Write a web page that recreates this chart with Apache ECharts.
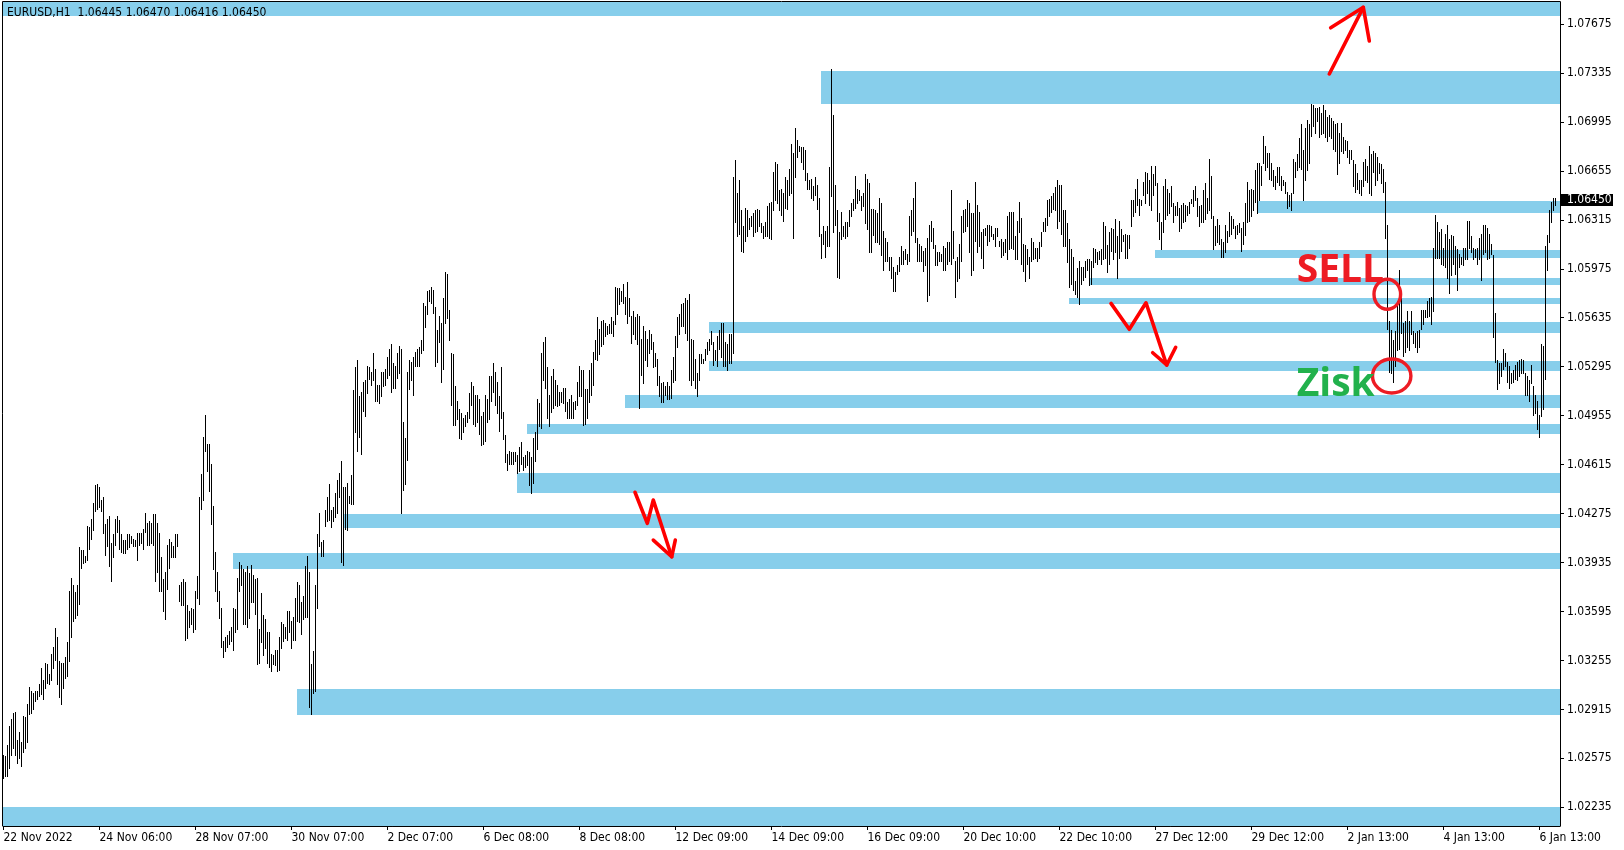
<!DOCTYPE html>
<html><head><meta charset="utf-8">
<script src="https://cdn.jsdelivr.net/npm/echarts@6/dist/echarts.min.js"></script>
<style>html,body{margin:0;padding:0;background:#fff}#c{width:1624px;height:850px}</style>
</head><body><div id="c"></div>
<script>
// ---------- chart values ----------
const chartTitle = 'EURUSD,H1  1.06445 1.06470 1.06416 1.06450';
const lastClose = 1.06450;
const timeLabels = ['22 Nov 2022','24 Nov 06:00','28 Nov 07:00','30 Nov 07:00','2 Dec 07:00','6 Dec 08:00','8 Dec 08:00','12 Dec 09:00','14 Dec 09:00','16 Dec 09:00','20 Dec 10:00','22 Dec 10:00','27 Dec 12:00','29 Dec 12:00','2 Jan 13:00','4 Jan 13:00','6 Jan 13:00'];
const timeLabelBars = [0,48,96,144,192,240,288,336,384,432,480,528,576,624,672,720,768];
const priceTicks = [1.02235,1.02575,1.02915,1.03255,1.03595,1.03935,1.04275,1.04615,1.04955,1.05295,1.05635,1.05975,1.06315,1.06655,1.06995,1.07335,1.07675];

// H1 bar highs (one per hour, oldest first)
const highs = [
1.0260,1.0259,1.0267,1.0280,1.0285,1.0289,1.0290,1.0270,1.0276,1.0269,
1.0287,1.0286,1.0295,1.0307,1.0304,1.0303,1.0304,1.0304,1.0309,1.0320,
1.0312,1.0324,1.0323,1.0316,1.0330,1.0335,1.0348,1.0342,1.0325,1.0324,
1.0324,1.0328,1.0338,1.0374,1.0383,1.0378,1.0373,1.0378,1.0404,1.0402,
1.0402,1.0398,1.0419,1.0418,1.0424,1.0435,1.0447,1.0448,1.0446,1.0437,
1.0439,1.0420,1.0424,1.0426,1.0407,1.0413,1.0424,1.0426,1.0423,1.0413,
1.0409,1.0409,1.0413,1.0413,1.0412,1.0410,1.0409,1.0414,1.0414,1.0414,
1.0417,1.0428,1.0421,1.0422,1.0421,1.0427,1.0427,1.0421,1.0414,1.0397,
1.0382,1.0387,1.0406,1.0410,1.0408,1.0405,1.0413,1.0413,1.0378,1.0380,
1.0382,1.0380,1.0364,1.0360,1.0362,1.0361,1.0374,1.0384,1.0439,1.0455,
1.0481,1.0496,1.0476,1.0476,1.0462,1.0433,1.0401,1.0387,1.0374,1.0362,
1.0339,1.0342,1.0343,1.0346,1.0349,1.0362,1.0361,1.0383,1.0394,1.0392,
1.0389,1.0387,1.0391,1.0386,1.0392,1.0385,1.0382,1.0383,1.0347,1.0372,
1.0357,1.0354,1.0345,1.0345,1.0330,1.0329,1.0333,1.0333,1.0342,1.0352,
1.0351,1.0349,1.0360,1.0360,1.0353,1.0356,1.0369,1.0380,1.0378,1.0366,
1.0370,1.0391,1.0398,1.0387,1.0323,1.0332,1.0378,1.0413,1.0428,
1.0408,1.0409,1.0430,1.0439,1.0448,1.0430,1.0432,1.0442,1.0451,1.0456,
1.0464,1.0446,1.0446,1.0449,1.0440,1.0454,1.0513,1.0529,1.0534,1.0509,
1.0512,1.0519,1.0520,1.0530,1.0529,1.0526,1.0539,1.0528,1.0517,1.0517,
1.0526,1.0526,1.0528,1.0536,1.0542,1.0545,1.0532,1.0530,1.0539,1.0544,
1.0542,1.0491,1.0480,1.0526,1.0534,1.0533,1.0536,1.0540,1.0542,1.0543,
1.0548,1.0574,1.0572,1.0582,1.0583,1.0585,1.0583,1.0571,1.0555,1.0565,
1.0560,1.0577,1.0595,1.0594,1.0569,1.0539,1.0538,1.0516,1.0506,1.0500,
1.0497,1.0494,1.0496,1.0498,1.0511,1.0519,1.0516,1.0510,1.0510,1.0507,
1.0495,1.0498,1.0510,1.0507,1.0523,1.0523,1.0532,1.0526,1.0519,1.0509,
1.0529,1.0498,1.0482,1.0469,1.0471,1.0470,1.0470,1.0470,1.0468,1.0474,
1.0477,1.0467,1.0468,1.0471,1.0470,1.0467,1.0480,1.0484,1.0507,1.0504,
1.0539,1.0547,1.0550,1.0529,1.0510,1.0523,1.0528,1.0520,1.0517,1.0512,
1.0512,1.0515,1.0515,1.0505,1.0507,1.0510,1.0505,1.0506,1.0519,1.0530,
1.0527,1.0527,1.0514,1.0514,1.0527,1.0532,1.0540,1.0548,1.0564,1.0556,
1.0561,1.0562,1.0560,1.0558,1.0559,1.0564,1.0561,1.0585,1.0584,1.0584,
1.0582,1.0587,1.0578,1.0588,
1.0577,1.0565,1.0568,1.0564,1.0566,1.0565,1.0549,1.0558,1.0554,1.0549,
1.0555,1.0552,1.0547,1.0539,1.0535,1.0523,1.0518,1.0519,1.0516,1.0519,
1.0516,1.0527,1.0536,1.0551,1.0564,1.0566,1.0573,1.0574,1.0577,1.0576,
1.0580,1.0549,1.0548,1.0535,1.0525,1.0538,1.0538,1.0535,1.0542,1.0547,
1.0549,1.0554,1.0547,1.0541,1.0551,1.0555,1.0560,1.0560,1.0547,1.0545,
1.0552,1.0552,1.0661,1.0673,1.0650,1.0659,1.0638,1.0627,1.0640,1.0638,
1.0633,1.0634,1.0636,1.0638,1.0639,1.0638,1.0629,1.0627,1.0630,1.0641,
1.0643,1.0644,1.0665,1.0672,1.0670,1.0652,1.0653,1.0650,1.0661,1.0659,
1.0667,1.0684,1.0678,1.0695,1.0687,1.0683,1.0682,1.0682,1.0680,1.0664,
1.0659,1.0660,1.0655,1.0661,1.0656,1.0647,1.0622,1.0627,1.0624,1.0627,
1.0668,1.0736,1.0704,1.0656,1.0638,1.0623,1.0637,1.0627,1.0630,1.0630,
1.0638,1.0643,1.0646,1.0662,1.0653,1.0652,1.0648,1.0650,1.0663,1.0660,
1.0657,1.0639,1.0639,1.0638,1.0636,1.0647,1.0643,1.0624,1.0619,1.0616,
1.0606,1.0606,1.0599,1.0595,1.0600,1.0606,1.0613,1.0610,1.0611,1.0608,
1.0634,1.0638,1.0647,1.0658,1.0619,1.0615,1.0613,1.0610,1.0612,1.0619,1.0628,
1.0631,1.0626,1.0614,1.0609,1.0609,1.0608,1.0613,1.0612,1.0616,1.0616,
1.0652,1.0624,1.0603,1.0606,1.0615,1.0634,1.0638,1.0639,1.0645,1.0643,
1.0636,1.0636,1.0658,1.0642,1.0637,1.0623,1.0625,1.0626,1.0628,1.0628,
1.0627,1.0622,1.0626,1.0626,1.0617,1.0618,1.0616,1.0618,1.0634,1.0637,
1.0637,1.0637,1.0620,1.0631,1.0644,1.0633,1.0615,1.0614,1.0611,1.0606,
1.0619,1.0616,1.0612,1.0612,1.0616,1.0623,1.0630,1.0633,1.0645,1.0646,
1.0648,1.0650,1.0654,1.0659,1.0656,1.0656,1.0638,1.0638,1.0629,1.0618,
1.0611,1.0606,1.0589,1.0598,1.0603,1.0599,1.0599,1.0603,1.0604,1.0604,
1.0603,1.0612,1.0611,1.0609,1.0610,1.0611,1.0630,1.0627,1.0614,1.0623,
1.0626,1.0625,1.0632,1.0620,1.0631,1.0625,1.0621,1.0622,1.0621,1.0621,
1.0645,1.0645,1.0653,1.0660,1.0646,1.0645,1.0658,1.0665,1.0664,1.0659,
1.0669,1.0663,1.0669,1.0657,1.0636,1.0630,1.0655,1.0660,1.0653,1.0650,
1.0655,1.0643,1.0641,1.0644,1.0640,1.0642,1.0643,1.0642,1.0641,1.0644,
1.0646,1.0652,1.0655,1.0647,1.0641,1.0642,1.0652,1.0657,1.0647,1.0674,
1.0662,1.0634,1.0627,1.0632,1.0628,1.0618,1.0616,1.0628,1.0624,1.0637,
1.0634,1.0632,1.0627,1.0628,1.0629,
1.0626,1.0630,1.0643,1.0658,1.0652,1.0653,1.0652,1.0666,1.0671,1.0671,
1.0669,1.0690,1.0683,1.0678,1.0678,1.0671,1.0666,1.0662,1.0668,1.0668,
1.0662,1.0659,1.0658,1.0651,1.0649,1.0650,1.0674,1.0672,1.0677,1.0688,
1.0698,1.0680,1.0695,1.0701,1.0698,1.0712,1.0711,1.0709,1.0709,1.0710,
1.0706,1.0711,1.0708,1.0703,1.0704,1.0702,1.0700,1.0698,1.0699,1.0692,
1.0699,1.0689,1.0687,1.0686,1.0680,1.0680,1.0673,1.0670,1.0664,1.0659,
1.0659,1.0672,1.0674,1.0669,1.0683,1.0677,1.0679,1.0678,1.0675,1.0671,
1.0670,1.0667,1.0658,1.0628,1.0561,1.0555,1.0548,1.0554,1.0575,1.0597,
1.0581,1.0560,1.0561,1.0568,1.0561,1.0568,1.0554,1.0553,1.0554,1.0555,
1.0569,1.0569,1.0569,1.0575,1.0577,1.0578,1.0612,1.0635,1.0630,1.0623,
1.0625,1.0612,1.0622,1.0628,1.0618,1.0621,1.0620,1.0613,1.0611,1.0608,
1.0606,1.0612,1.0612,1.0631,1.0631,1.0620,1.0612,1.0611,1.0612,1.0619,
1.0622,1.0628,1.0628,1.0626,1.0622,1.0615,1.0607,1.0567,1.0534,1.0532,
1.0532,1.0542,1.0539,1.0533,1.0530,1.0525,1.0527,1.0531,1.0533,1.0534,
1.0535,1.0534,1.0525,1.0523,1.0520,1.0531,1.0516,1.0510,1.0506,1.0496,
1.0545,1.0544,1.0613,1.0621,1.0638,1.0644,1.0647,1.0647
];

// H1 bar lows (same order)
const lows = [
1.0244,1.0245,1.0245,1.0251,1.0260,1.0265,1.0260,1.0254,1.0258,1.0252,
1.0262,1.0265,1.0269,1.0288,1.0289,1.0292,1.0297,1.0299,1.0301,1.0302,
1.0299,1.0306,1.0310,1.0309,1.0312,1.0320,1.0326,1.0309,1.0300,1.0295,
1.0306,1.0313,1.0315,1.0325,1.0342,1.0353,1.0355,1.0357,1.0365,1.0390,
1.0393,1.0394,1.0395,1.0403,1.0410,1.0416,1.0429,1.0431,1.0432,1.0429,
1.0414,1.0399,1.0405,1.0391,1.0381,1.0397,1.0406,1.0415,1.0403,1.0401,
1.0400,1.0400,1.0403,1.0404,1.0407,1.0405,1.0405,1.0395,1.0406,1.0407,
1.0403,1.0415,1.0406,1.0406,1.0407,1.0406,1.0381,1.0387,1.0374,1.0374,
1.0360,1.0354,1.0375,1.0390,1.0397,1.0397,1.0397,1.0405,1.0367,1.0364,
1.0364,1.0340,1.0341,1.0349,1.0351,1.0345,1.0347,1.0369,1.0365,1.0431,
1.0437,1.0471,1.0457,1.0443,1.0420,1.0389,1.0374,1.0367,1.0355,1.0335,
1.0328,1.0332,1.0335,1.0337,1.0339,1.0333,1.0345,1.0347,1.0374,1.0378,
1.0351,1.0351,1.0349,1.0355,1.0366,1.0366,1.0358,1.0323,1.0324,1.0338,
1.0329,1.0334,1.0324,1.0321,1.0318,1.0323,1.0322,1.0318,1.0319,1.0334,
1.0339,1.0341,1.0340,1.0345,1.0334,1.0340,1.0340,1.0353,1.0352,1.0344,
1.0354,1.0356,1.0356,1.0293,1.0288,1.0303,1.0304,1.0362,1.0405,
1.0398,1.0398,1.0419,1.0422,1.0423,1.0418,1.0422,1.0425,1.0428,1.0439,
1.0394,1.0392,1.0417,1.0416,1.0435,1.0434,1.0434,1.0484,1.0471,1.0481,
1.0469,1.0499,1.0495,1.0511,1.0521,1.0517,1.0520,1.0506,1.0506,1.0504,
1.0509,1.0516,1.0517,1.0522,1.0524,1.0512,1.0515,1.0515,1.0522,1.0525,
1.0428,1.0444,1.0448,1.0465,1.0514,1.0520,1.0510,1.0530,1.0530,1.0530,
1.0539,1.0541,1.0557,1.0566,1.0575,1.0574,1.0567,1.0530,1.0533,1.0547,
1.0519,1.0528,1.0560,1.0563,1.0548,1.0503,1.0489,1.0489,1.0493,1.0480,
1.0479,1.0484,1.0488,1.0491,1.0494,1.0503,1.0490,1.0488,1.0491,1.0483,
1.0475,1.0476,1.0478,1.0491,1.0493,1.0506,1.0512,1.0503,1.0497,1.0485,
1.0494,1.0479,1.0463,1.0458,1.0462,1.0462,1.0462,1.0464,1.0456,1.0457,
1.0462,1.0458,1.0460,1.0461,1.0447,1.0442,1.0449,1.0464,1.0472,1.0488,
1.0487,1.0520,1.0515,1.0494,1.0488,1.0498,1.0501,1.0503,1.0502,1.0503,
1.0505,1.0504,1.0499,1.0494,1.0494,1.0494,1.0494,1.0500,1.0503,1.0509,
1.0509,1.0489,1.0490,1.0494,1.0505,1.0510,1.0517,1.0535,1.0534,1.0538,
1.0544,1.0545,1.0551,1.0552,1.0553,1.0553,1.0551,1.0559,1.0566,1.0573,
1.0575,1.0574,1.0566,1.0560,
1.0565,1.0546,1.0552,1.0549,1.0545,1.0501,1.0524,1.0518,1.0534,1.0530,
1.0539,1.0542,1.0529,1.0530,1.0517,1.0509,1.0505,1.0505,1.0510,1.0507,
1.0507,1.0508,1.0519,1.0520,1.0543,1.0552,1.0558,1.0558,1.0553,1.0548,
1.0520,1.0517,1.0520,1.0515,1.0509,1.0520,1.0532,1.0532,1.0534,1.0538,
1.0541,1.0545,1.0531,1.0534,1.0530,1.0542,1.0536,1.0530,1.0530,1.0527,
1.0532,1.0532,1.0539,1.0630,1.0620,1.0622,1.0610,1.0609,1.0617,1.0620,
1.0625,1.0627,1.0620,1.0623,1.0624,1.0627,1.0623,1.0619,1.0620,1.0620,
1.0619,1.0618,1.0638,1.0645,1.0643,1.0638,1.0635,1.0631,1.0640,1.0639,
1.0649,1.0650,1.0619,1.0661,1.0675,1.0679,1.0672,1.0667,1.0659,1.0653,
1.0653,1.0647,1.0645,1.0649,1.0639,1.0620,1.0605,1.0615,1.0606,1.0613,
1.0613,1.0648,1.0623,1.0628,1.0592,1.0591,1.0618,1.0620,1.0619,1.0620,
1.0627,1.0634,1.0638,1.0640,1.0643,1.0645,1.0638,1.0641,1.0629,1.0625,
1.0609,1.0609,1.0621,1.0616,1.0616,1.0615,1.0607,1.0597,1.0603,1.0603,
1.0597,1.0591,1.0582,1.0582,1.0594,1.0596,1.0601,1.0601,1.0604,1.0601,
1.0603,1.0621,1.0624,1.0616,1.0603,1.0603,1.0603,1.0596,1.0600,1.0575,1.0579,
1.0617,1.0612,1.0600,1.0600,1.0603,1.0603,1.0597,1.0597,1.0601,1.0603,
1.0601,1.0605,1.0578,1.0589,1.0591,1.0603,1.0623,1.0624,1.0627,1.0609,
1.0593,1.0597,1.0617,1.0609,1.0613,1.0605,1.0598,1.0621,1.0614,1.0617,
1.0620,1.0618,1.0613,1.0620,1.0613,1.0606,1.0607,1.0609,1.0604,1.0611,
1.0612,1.0611,1.0604,1.0604,1.0623,1.0601,1.0596,1.0589,1.0601,1.0591,
1.0603,1.0604,1.0605,1.0603,1.0605,1.0613,1.0624,1.0624,1.0628,1.0634,
1.0637,1.0639,1.0638,1.0626,1.0631,1.0622,1.0613,1.0613,1.0602,1.0585,
1.0587,1.0583,1.0580,1.0578,1.0573,1.0587,1.0590,1.0592,1.0597,1.0586,
1.0587,1.0599,1.0602,1.0601,1.0604,1.0601,1.0604,1.0605,1.0595,1.0601,
1.0610,1.0604,1.0609,1.0591,1.0605,1.0610,1.0617,1.0605,1.0605,1.0612,
1.0627,1.0634,1.0637,1.0642,1.0635,1.0642,1.0649,1.0643,1.0650,1.0642,
1.0638,1.0649,1.0656,1.0631,1.0618,1.0611,1.0623,1.0632,1.0635,1.0636,
1.0641,1.0630,1.0635,1.0635,1.0624,1.0626,1.0630,1.0631,1.0635,1.0636,
1.0643,1.0641,1.0645,1.0634,1.0627,1.0630,1.0630,1.0632,1.0636,1.0638,
1.0633,1.0611,1.0614,1.0616,1.0615,1.0606,1.0606,1.0609,1.0616,1.0620,
1.0622,1.0626,1.0619,1.0622,1.0623,
1.0610,1.0615,1.0621,1.0630,1.0631,1.0634,1.0638,1.0644,1.0636,1.0645,
1.0656,1.0671,1.0666,1.0668,1.0660,1.0659,1.0655,1.0653,1.0658,1.0656,
1.0652,1.0656,1.0650,1.0640,1.0641,1.0638,1.0650,1.0661,1.0666,1.0668,
1.0667,1.0645,1.0659,1.0666,1.0671,1.0690,1.0697,1.0692,1.0700,1.0689,
1.0691,1.0692,1.0689,1.0686,1.0690,1.0688,1.0681,1.0679,1.0663,1.0671,
1.0679,1.0678,1.0680,1.0675,1.0671,1.0674,1.0655,1.0651,1.0653,1.0650,
1.0649,1.0655,1.0659,1.0658,1.0650,1.0649,1.0665,1.0656,1.0659,1.0664,
1.0657,1.0651,1.0619,1.0556,1.0526,1.0525,1.0519,1.0530,1.0541,1.0542,
1.0553,1.0537,1.0540,1.0543,1.0541,1.0552,1.0546,1.0543,1.0540,1.0543,
1.0556,1.0559,1.0564,1.0564,1.0565,1.0559,1.0568,1.0605,1.0605,1.0605,
1.0601,1.0600,1.0599,1.0591,1.0581,1.0593,1.0601,1.0594,1.0583,1.0599,
1.0601,1.0600,1.0604,1.0604,1.0612,1.0609,1.0604,1.0606,1.0601,1.0604,
1.0590,1.0608,1.0609,1.0604,1.0605,1.0608,1.0550,1.0533,1.0514,1.0518,
1.0523,1.0528,1.0530,1.0519,1.0515,1.0518,1.0519,1.0521,1.0520,1.0523,
1.0525,1.0525,1.0510,1.0510,1.0506,1.0518,1.0496,1.0497,1.0486,1.0481,
1.0495,1.0500,1.0521,1.0597,1.0616,1.0630,1.0638,1.0642
];

// support / resistance zones: first bar of the zone, lower price, upper price (all run to the right edge)
const zoneStarts = [-1, 408.75, 627, 575.75, 542.75, 532.75, 352.75, 352.75, 310.75, 261.75, 256.75, 169.9, 114.75, 146.75, -1];
const zoneLows   = [1.07734, 1.07122, 1.06360, 1.06053, 1.05865, 1.05730, 1.05531, 1.05267, 1.05010, 1.04830, 1.04420, 1.04177, 1.03892, 1.02876, 1.01900];
const zoneHighs  = [1.08000, 1.07349, 1.06446, 1.06106, 1.05911, 1.05772, 1.05605, 1.05334, 1.05098, 1.04897, 1.04557, 1.04272, 1.03999, 1.03057, 1.02237];

// hand-drawn annotations, in (bar, price) units
const arrowPaths = [
  [[662.9,1.07328],[679.9,1.07791]],
  [[663.6,1.07649],[679.9,1.07791],[682.9,1.07557]],
  [[553.75,1.05735],[562.9,1.05555],[571.25,1.05739],[581.6,1.05307]],
  [[574.6,1.05392],[581.6,1.05307],[586.1,1.05430]],
  [[315.75,1.04423],[321.9,1.04207],[324.9,1.04369],[334.1,1.03975]],
  [[324.9,1.04091],[334.1,1.03975],[335.9,1.04091]]
];
const circleCenters = [[691.9,1.05798],[694.1,1.05230]];
const noteTexts = ['SELL','Zisk'];
const noteAnchors = [[646.6,1.05958],[646.6,1.05168]];

// ---------- drawing ----------
const X_MIN = -0.25, X_MAX = 778.25, Y_MIN = 1.02105, Y_MAX = 1.07828;
const FONT = '"DejaVu Sans Condensed", "DejaVu Sans", sans-serif';
const bars = highs.map((h, i) => [i, lows[i], h]);
const zones = zoneStarts.map((s, i) => [s, zoneLows[i], zoneHighs[i]]);

function renderBar(params, api) {
  const top = api.coord([api.value(0), api.value(2)]);
  const bot = api.coord([api.value(0), api.value(1)]);
  const x = Math.floor(top[0]) + 0.5;
  const y1 = Math.round(top[1]);
  const y2 = Math.max(Math.round(bot[1]) + 1, y1 + 1);
  return { type: 'line', shape: { x1: x, y1: y1, x2: x, y2: y2 }, style: { stroke: '#000', lineWidth: 1 } };
}
function renderZone(params, api) {
  const cs = params.coordSys;
  const p1 = api.coord([api.value(0), api.value(2)]);
  const p2 = api.coord([api.value(0), api.value(1)]);
  const x0 = Math.max(cs.x, Math.round(p1[0]));
  const y0 = Math.round(p1[1]), y1 = Math.round(p2[1]);
  return { type: 'rect', shape: { x: x0, y: y0, width: cs.x + cs.width - x0, height: y1 - y0 }, style: { fill: '#87CEEB' } };
}

const chart = echarts.init(document.getElementById('c'), null, { renderer: 'canvas', width: 1624, height: 850 });
chart.setOption({
  animation: false,
  backgroundColor: '#ffffff',
  grid: { left: 3, top: 2, right: 64, bottom: 24, show: false },
  xAxis: {
    type: 'value', min: X_MIN, max: X_MAX,
    axisLine: { show: true, onZero: false, lineStyle: { color: '#000', width: 1 } },
    splitLine: { show: false },
    axisTick: { show: true, customValues: timeLabelBars, length: 4, lineStyle: { color: '#000' } },
    axisLabel: { customValues: timeLabelBars, formatter: v => timeLabels[timeLabelBars.indexOf(v)], align: 'left', margin: 6, color: '#000', fontSize: 12, fontFamily: FONT }
  },
  yAxis: {
    type: 'value', position: 'right', min: Y_MIN, max: Y_MAX,
    axisLine: { show: true, onZero: false, lineStyle: { color: '#000', width: 1 } },
    splitLine: { show: false },
    axisTick: { show: true, customValues: priceTicks, length: 4, lineStyle: { color: '#000' } },
    axisLabel: { customValues: priceTicks, formatter: v => v.toFixed(5), margin: 7, color: '#000', fontSize: 12, fontFamily: FONT }
  },
  series: [
    { type: 'custom', name: 'zones', data: zones, renderItem: renderZone, clip: true, z: 1, silent: true },
    { type: 'custom', name: 'EURUSD', data: bars, renderItem: renderBar, clip: true, z: 2, silent: true }
  ]
});

const toPx = p => chart.convertToPixel({ gridIndex: 0 }, p);
const smallFont = '12px "DejaVu Sans Condensed", "DejaVu Sans", sans-serif';
const graphics = [];
// chart frame (left and top edges)
graphics.push({ type: 'polyline', shape: { points: [[2.5, 826], [2.5, 1.5], [1560.5, 1.5]] }, style: { stroke: '#000', lineWidth: 1, fill: null }, z: 50 });
// symbol / OHLC header
graphics.push({ type: 'text', x: 7, y: 12.5, style: { text: chartTitle, fill: '#000', font: smallFont, align: 'left', verticalAlign: 'middle', textAlign: 'left', textVerticalAlign: 'middle' }, z: 60 });
// last price tag
const lp = toPx([X_MAX, lastClose]);
graphics.push({ type: 'rect', shape: { x: 1561, y: Math.round(lp[1]) - 6, width: 52, height: 12 }, style: { fill: '#000' }, z: 60 });
graphics.push({ type: 'text', x: 1567, y: Math.round(lp[1]), style: { text: lastClose.toFixed(5), fill: '#fff', font: smallFont, align: 'left', verticalAlign: 'middle', textAlign: 'left', textVerticalAlign: 'middle' }, z: 61 });
// arrows
arrowPaths.forEach(path => {
  graphics.push({ type: 'polyline', shape: { points: path.map(toPx) }, style: { stroke: '#FF0000', lineWidth: 3.6, fill: null, lineJoin: 'round', lineCap: 'round' }, z: 70 });
});
// circles
const circleRadii = [[13.3, 15], [19.2, 17]];
circleCenters.forEach((c, i) => {
  const p = toPx(c);
  graphics.push({ type: 'ellipse', shape: { cx: p[0], cy: p[1], rx: circleRadii[i][0], ry: circleRadii[i][1] }, style: { stroke: '#ED1C24', lineWidth: 3.4, fill: null }, z: 70 });
});
// notes
const noteColors = ['#ED1C24', '#22B14C'];
noteTexts.forEach((t, i) => {
  const p = toPx(noteAnchors[i]);
  graphics.push({ type: 'text', x: p[0], y: p[1], style: { text: t, fill: noteColors[i], font: 'bold 39px "Open Sans"', align: 'left', verticalAlign: 'middle', textAlign: 'left', textVerticalAlign: 'middle' }, z: 70 });
});
chart.setOption({ graphic: { elements: graphics } });
</script>
</body></html>
